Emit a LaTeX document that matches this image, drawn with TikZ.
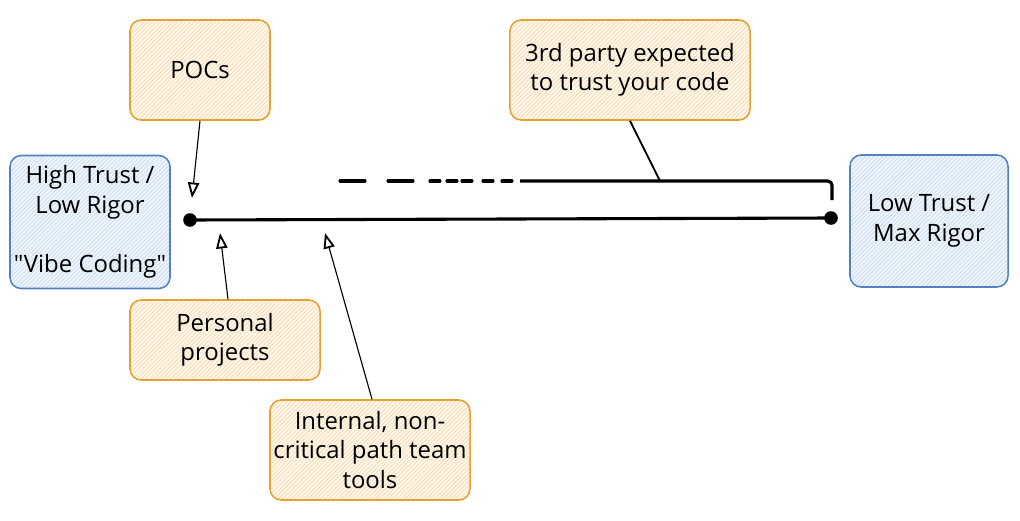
\documentclass[tikz,border=0pt]{standalone}
\usepackage{fontspec}
\setmainfont{Open Sans}[Ligatures=TeXOff]
\usetikzlibrary{patterns,arrows.meta}

\definecolor{noteline}{HTML}{E3A232}
\definecolor{notefill}{HTML}{FEF6EA}
\definecolor{notehatch}{HTML}{F6D7A6}
\definecolor{trustline}{HTML}{5282C0}
\definecolor{trustfill}{HTML}{EEF4FB}
\definecolor{trusthatch}{HTML}{C6D8EE}

\tikzset{
	note/.style={draw=noteline, line width=1.1pt, rounded corners=8pt,
		preaction={fill=notefill},
		preaction={pattern=north east lines, pattern color=notehatch},
		align=center, inner sep=0pt, font=\fontsize{17}{21}\selectfont},
	trust/.style={draw=trustline, line width=1.1pt, rounded corners=8pt,
		preaction={fill=trustfill},
		preaction={pattern=north east lines, pattern color=trusthatch},
		align=center, inner sep=0pt, font=\fontsize{17}{21}\selectfont},
	pointer/.style={-{Triangle[open, length=11pt, width=8pt, line width=1.3pt]}, line width=0.8pt},
	axis/.style={line width=2.2pt, line cap=round}
}

\begin{document}
\begin{tikzpicture}[x=0.025cm, y=-0.025cm]
	\useasboundingbox (0,0) rectangle (1020,520);
	
	%Trust ends
	\node[trust, minimum width=4cm, minimum height=3.325cm] (HT) at (90,222) {High Trust /\\Low Rigor\\[21pt]"Vibe Coding"};
	\node[trust, minimum width=3.95cm, minimum height=3.3cm] (LT) at (929,221) {Low Trust /\\Max Rigor};
	
	%Notes
	\node[note, minimum width=3.5cm, minimum height=2.5cm] (POC) at (200,70) {POCs};
	\node[note, minimum width=6cm, minimum height=2.5cm] (TP) at (630,70) {3rd party expected\\to trust your code};
	\node[note, minimum width=4.75cm, minimum height=2cm] (PP) at (225,340) {Personal\\projects};
	\node[note, minimum width=5cm, minimum height=2.5cm] (IT) at (370,450) {Internal, non-\\critical path team\\tools};
	
	%Scale
	\coordinate (A) at (190,220);
	\coordinate (B) at (831,218);
	\draw[axis] (A) -- (B);
	\fill (A) circle (0.17cm);
	\fill (B) circle (0.17cm);
	
	%Bracket for 3rd party
	\coordinate (T) at (660,181);
	\draw[axis] (340,181) -- (365,181);
	\draw[axis] (388,181) -- (413,181);
	\foreach \s in {430,447,462,483,502}
		\draw[axis] (\s,181) -- ++(10,0);
	\draw[axis, line cap=butt, rounded corners=3pt] (520,181) -- (T) -- (832,181) -- (832,200);
	\draw[line width=1.3pt] (TP.south) -- (T);
	
	%Pointers
	\draw[pointer] (POC.south) -- (192,198);
	\draw[pointer] (PP.north) ++(3,0) -- (220,233);
	\draw[pointer] (IT.north) ++(2,0) -- (325,233);
\end{tikzpicture}
\end{document}
